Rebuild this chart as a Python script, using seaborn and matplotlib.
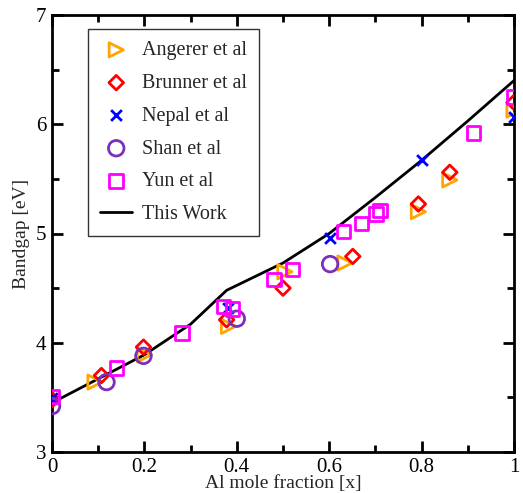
import matplotlib
matplotlib.use("Agg")
import matplotlib.pyplot as plt
import seaborn as sns

sns.set_theme(style="ticks")
plt.rcParams['font.family'] = ['Liberation Serif', 'DejaVu Serif']

# Angerer et al
angerer_x = [0.0, 0.093, 0.20, 0.382, 0.504, 0.634, 0.793, 0.861, 1.0]
angerer_y = [3.45, 3.64, 3.89, 4.15, 4.65, 4.73, 5.20, 5.49, 6.13]
# Brunner et al
brunner_x = [0.0, 0.107, 0.198, 0.378, 0.50, 0.651, 0.793, 0.861, 1.0]
brunner_y = [3.48, 3.70, 3.96, 4.21, 4.50, 4.79, 5.27, 5.56, 6.20]
# Nepal et al
nepal_x = [0.0, 0.382, 0.602, 0.80, 1.0]
nepal_y = [3.49, 4.32, 4.96, 5.67, 6.07]
# Shan et al
shan_x = [0.0, 0.118, 0.198, 0.40, 0.602]
shan_y = [3.42, 3.64, 3.88, 4.22, 4.72]
# Yun et al
yun_x = [0.0, 0.14, 0.281, 0.371, 0.391, 0.481, 0.521, 0.631, 0.67, 0.701, 0.71, 0.912, 1.0]
yun_y = [3.51, 3.77, 4.09, 4.33, 4.31, 4.58, 4.67, 5.02, 5.09, 5.18, 5.21, 5.92, 6.25]
# This Work
work_x = [0.0, 0.1, 0.2, 0.3, 0.378, 0.5, 0.6, 0.7, 0.8, 0.9, 1.0]
work_y = [3.45, 3.67, 3.89, 4.17, 4.48, 4.73, 5.00, 5.33, 5.67, 6.03, 6.40]

fig = plt.figure(figsize=(5.23, 4.93), dpi=100)
ax = fig.add_axes([52 / 523, 41 / 493, 462 / 523, 437 / 493])

series = [
    (angerer_x, angerer_y, "Angerer et al", ">", "#ffa500", 105),
    (brunner_x, brunner_y, "Brunner et al", "D", "#ff0000", 55),
    (nepal_x, nepal_y, "Nepal et al", "x", "#0000ff", 60),
    (shan_x, shan_y, "Shan et al", "o", "#7b2fbe", 125),
    (yun_x, yun_y, "Yun et al", "s", "#ff00ff", 95),
]
for xs, ys, lab, mk, col, sz in series:
    if mk == "x":
        sns.scatterplot(x=xs, y=ys, marker=mk, s=sz, color=col, linewidth=2,
                        label=lab, ax=ax, zorder=3)
    else:
        sns.scatterplot(x=xs, y=ys, marker=mk, s=sz, facecolor="none",
                        edgecolor=col, linewidth=2, label=lab, ax=ax, zorder=3)

sns.lineplot(x=work_x, y=work_y, color="black", linewidth=2, label="This Work",
             ax=ax, zorder=2)

ax.set_xlim(0, 1)
ax.set_ylim(3, 7)
ax.set_xticks([0, 0.2, 0.4, 0.6, 0.8, 1])
ax.set_xticklabels(["0", "0.2", "0.4", "0.6", "0.8", "1"])
ax.set_xticks([0.1, 0.3, 0.5, 0.7, 0.9], minor=True)
ax.set_yticks([3, 4, 5, 6, 7])
ax.set_yticks([3.5, 4.5, 5.5, 6.5], minor=True)
ax.tick_params(which="both", direction="in", top=True, right=True,
               labelsize=15, width=2, colors="black")
ax.tick_params(axis="x", pad=4)
ax.tick_params(axis="y", pad=4)
ax.tick_params(which="major", length=8)
ax.tick_params(which="minor", length=5)
for sp in ax.spines.values():
    sp.set_linewidth(2)
    sp.set_color("black")

ax.set_xlabel("Al mole fraction [x]", fontsize=14, labelpad=-1)
ax.set_ylabel("Bandgap [eV]", fontsize=14, labelpad=4)

leg = ax.legend(loc="upper left", bbox_to_anchor=(0.078, 0.968), borderaxespad=0,
                fontsize=14.5, frameon=True, fancybox=False, edgecolor="black",
                labelspacing=0.68, handlelength=1.6, handletextpad=0.5,
                borderpad=0.6)
leg.get_frame().set_linewidth(1)

fig.savefig("out.png", dpi=100)
